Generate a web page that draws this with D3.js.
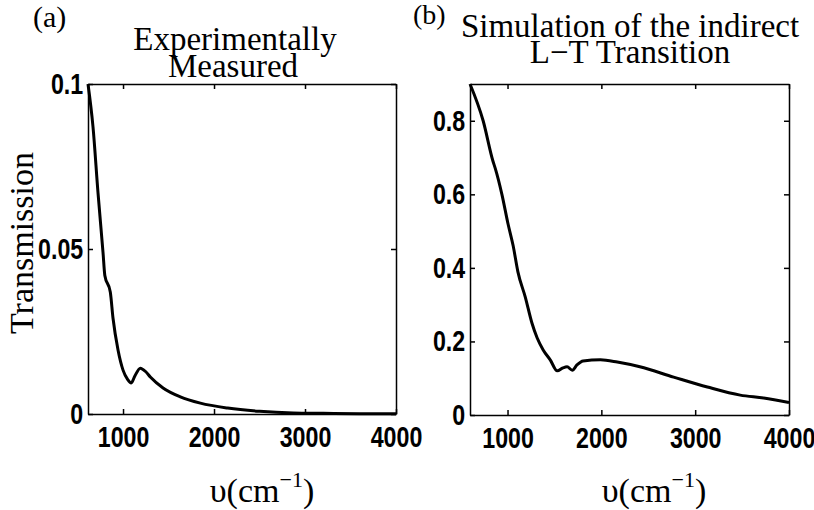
<!DOCTYPE html>
<html>
<head>
<meta charset="utf-8">
<script src="https://cdn.jsdelivr.net/npm/d3@7"></script>
<style>
body { margin: 0; background: #fff; }
.tick text { font-family: "Liberation Sans", Arial, sans-serif; font-weight: bold; font-size: 29px; fill: #000; }
.serif { font-family: "Liberation Serif", "Times New Roman", serif; fill: #000; }
</style>
</head>
<body>
<svg id="chart" width="814" height="510"></svg>
<script>
// values
var wavenumberA = [615, 670, 725, 780, 800, 860, 890, 945, 1000, 1050, 1090, 1130, 1190, 1250, 1300, 1440, 1630, 1850, 2150, 2500, 2870, 3200, 3600, 4000];
var transmissionA = [0.1, 0.087, 0.067, 0.049, 0.042, 0.037, 0.029, 0.0194, 0.0133, 0.0105, 0.0094, 0.0115, 0.0139, 0.0128, 0.0112, 0.0079, 0.0052, 0.0033, 0.0018, 0.0008, 0.0003, 0.0002, 0.0001, 0.0001];

var wavenumberB = [600, 740, 845, 870, 940, 1005, 1060, 1110, 1190, 1260, 1315, 1380, 1455, 1530, 1590, 1635, 1690, 1740, 1805, 1990, 2170, 2410, 2770, 3130, 3480, 3730, 4000];
var transmissionB = [0.9, 0.80, 0.69, 0.67, 0.60, 0.52, 0.46, 0.39, 0.32, 0.25, 0.21, 0.177, 0.15, 0.12, 0.128, 0.131, 0.122, 0.136, 0.147, 0.150, 0.144, 0.131, 0.103, 0.076, 0.054, 0.046, 0.034];

var xTicks = [1000, 2000, 3000, 4000];
var yTicksA = [0, 0.05, 0.1];
var yTicksB = [0, 0.2, 0.4, 0.6, 0.8];

var svg = d3.select("#chart");

// draws one boxed panel, matlab style (ticks pointing inward on all 4 sides)
function drawPanel(p) {
  var x = d3.scaleLinear().domain(p.xDomain).range([p.left, p.right]);
  var y = d3.scaleLinear().domain(p.yDomain).range([p.bottom, p.top]);

  var g = svg.append("g");

  var bottom = g.append("g")
    .attr("transform", "translate(0," + p.bottom + ")")
    .call(d3.axisBottom(x).tickValues(xTicks).tickSizeInner(-5).tickSizeOuter(0)
      .tickPadding(12).tickFormat(d3.format("d")));
  bottom.selectAll(".tick text").attr("transform", "scale(0.8,1)");

  var left = g.append("g")
    .attr("transform", "translate(" + p.left + ",0)")
    .call(d3.axisLeft(y).tickValues(p.yTicks).tickSizeInner(-5).tickSizeOuter(0)
      .tickPadding(6).tickFormat(function(d) { return String(d); }));
  left.selectAll(".tick text").attr("transform", "scale(0.8,1)");

  g.append("g")
    .attr("transform", "translate(0," + p.top + ")")
    .call(d3.axisTop(x).tickValues(xTicks).tickSizeInner(-5).tickSizeOuter(0).tickFormat(""));
  g.append("g")
    .attr("transform", "translate(" + p.right + ",0)")
    .call(d3.axisRight(y).tickValues(p.yTicks).tickSizeInner(-5).tickSizeOuter(0).tickFormat(""));

  g.selectAll(".domain, .tick line").attr("stroke", "#000").attr("stroke-width", 1.5);

  var line = d3.line()
    .x(function(d) { return x(d[0]); })
    .y(function(d) { return y(d[1]); })
    .curve(d3.curveMonotoneX);

  g.append("path")
    .datum(d3.zip(p.nu, p.trans))
    .attr("d", line)
    .attr("fill", "none")
    .attr("stroke", "#000")
    .attr("stroke-width", 3)
    .attr("stroke-linejoin", "round");

  // title, two lines
  p.title.forEach(function(t, i) {
    g.append("text").attr("class", "serif")
      .attr("x", p.titleX[i]).attr("y", p.titleY[i])
      .attr("text-anchor", "middle").style("font-size", "33px")
      .text(t);
  });

  // panel letter
  g.append("text").attr("class", "serif")
    .attr("x", p.letterX).attr("y", p.letterY)
    .style("font-size", p.letterSize).text(p.letter);

  // x label with superscript
  var xl = g.append("text").attr("class", "serif")
    .attr("x", p.xLabelX).attr("y", 502)
    .attr("text-anchor", "middle").style("font-size", "34px");
  xl.append("tspan").text("\u03c5(cm");
  xl.append("tspan").attr("dy", -15).style("font-size", "22px").text("\u22121");
  xl.append("tspan").attr("dy", 15).text(")");
}

drawPanel({
  left: 88, right: 396, top: 84, bottom: 414,
  xDomain: [615, 4000], yDomain: [0, 0.1], yTicks: yTicksA,
  nu: wavenumberA, trans: transmissionA,
  title: ["Experimentally", "Measured"], titleX: [235, 233], titleY: [50, 77],
  letter: "(a)", letterX: 33, letterY: 27, letterSize: "30px",
  xLabelX: 262
});

drawPanel({
  left: 470, right: 789, top: 84, bottom: 415,
  xDomain: [600, 4000], yDomain: [0, 0.9], yTicks: yTicksB,
  nu: wavenumberB, trans: transmissionB,
  title: ["Simulation of the indirect", "L\u2212T Transition"], titleX: [630, 630], titleY: [37, 63],
  letter: "(b)", letterX: 413, letterY: 24, letterSize: "28px",
  xLabelX: 654
});

// shared y label
svg.append("text").attr("class", "serif")
  .attr("transform", "translate(33,243) rotate(-90)")
  .attr("text-anchor", "middle").style("font-size", "34px")
  .text("Transmission");
</script>
</body>
</html>
